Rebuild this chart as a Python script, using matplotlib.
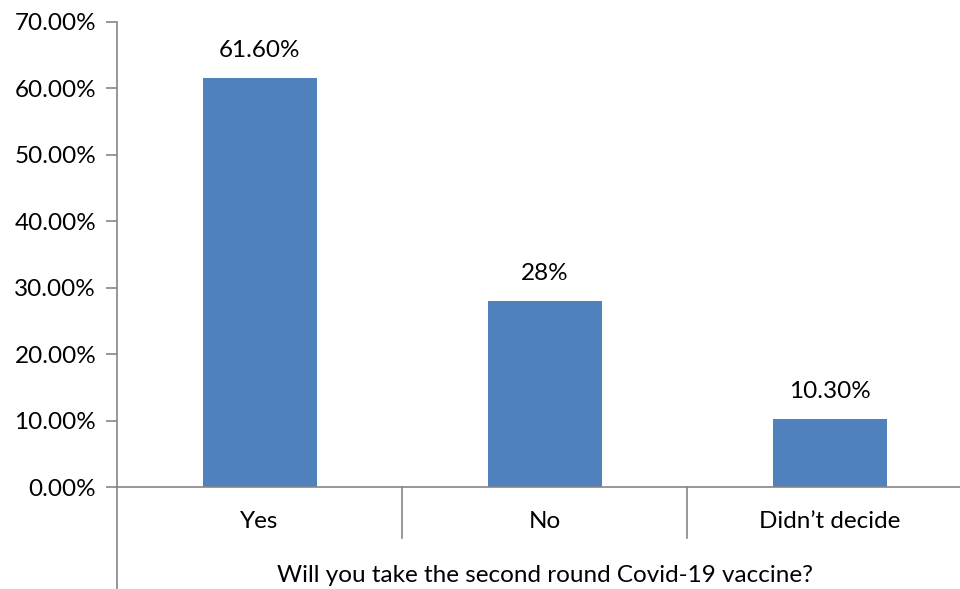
import matplotlib
matplotlib.use("Agg")
import matplotlib.pyplot as plt
from matplotlib.ticker import FuncFormatter

categories = ["Yes", "No", "Didn\u2019t decide"]
values = [61.6, 28.0, 10.3]
value_labels = ["61.60%", "28%", "10.30%"]
xlabel = "Will you take the second round Covid-19 vaccine?"

plt.rcParams['font.family'] = ['Lato', 'DejaVu Sans']
axis_col = "#868686"
bar_col = "#4F81BD"
fs = 17.5

W, H = 960, 589
fig = plt.figure(figsize=(W/100, H/100), dpi=100)
ax = fig.add_axes([117/W, (H-487)/H, 855/W, 465/H])
x = list(range(len(categories)))
ax.bar(x, values, width=0.40, color=bar_col, zorder=2)
ax.set_xlim(-0.5, len(categories) - 0.5)
ax.set_ylim(0, 70)
ax.set_yticks(range(0, 71, 10))
ax.yaxis.set_major_formatter(FuncFormatter(lambda v, p: f"{v:.2f}%"))
ax.tick_params(axis='y', length=8, width=1.2, color=axis_col, labelsize=fs, pad=7)
ax.set_xticks([])
for s in ['top', 'right']:
    ax.spines[s].set_visible(False)
for s in ['left', 'bottom']:
    ax.spines[s].set_color(axis_col)
    ax.spines[s].set_linewidth(1.2)

# extended y axis line below the plot
ax.plot([0, 0], [0, -104/465], transform=ax.transAxes, color=axis_col, lw=1.2, clip_on=False)
# category separators
trans = ax.get_xaxis_transform()
for i in range(len(categories) - 1):
    ax.plot([i + 0.5, i + 0.5], [0, -51/465], transform=trans, color=axis_col, lw=1.2, clip_on=False)

for xi, v, lab in zip(x, values, value_labels):
    ax.annotate(lab, (xi, v), xytext=(0, 27), textcoords='offset pixels',
                ha='center', va='center', fontsize=fs)

for xi, c in zip(x, categories):
    ax.text(xi, -35/465, c, transform=trans, ha='center', va='center', fontsize=fs)

fig.text(545/W, (H-576)/H, xlabel, ha='center', va='center', fontsize=fs)

fig.savefig("out.png", dpi=100)
